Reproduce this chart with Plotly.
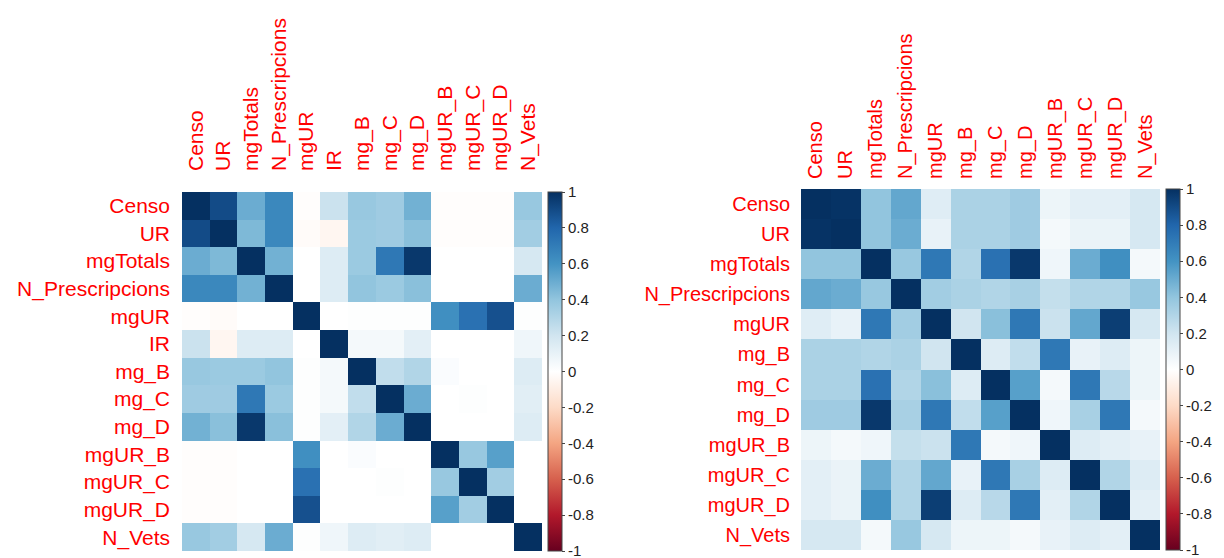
import plotly.graph_objects as go

labels_left = ["Censo", "UR", "mgTotals", "N_Prescripcions", "mgUR", "IR", "mg_B",
               "mg_C", "mg_D", "mgUR_B", "mgUR_C", "mgUR_D", "N_Vets"]
corr_left = [
    [1.00, 0.90, 0.50, 0.65, -0.01, 0.22, 0.38, 0.36, 0.48, -0.01, -0.01, -0.01, 0.38],
    [0.90, 1.00, 0.45, 0.65, -0.02, -0.05, 0.37, 0.36, 0.42, -0.01, -0.01, -0.01, 0.35],
    [0.50, 0.45, 1.00, 0.48, 0.00, 0.15, 0.37, 0.72, 0.97, 0.00, 0.00, 0.00, 0.18],
    [0.65, 0.65, 0.48, 1.00, 0.00, 0.15, 0.40, 0.37, 0.42, 0.00, 0.00, 0.00, 0.50],
    [-0.01, -0.02, 0.00, 0.00, 1.00, 0.00, 0.01, 0.01, 0.01, 0.62, 0.75, 0.88, 0.01],
    [0.22, -0.05, 0.15, 0.15, 0.00, 1.00, 0.05, 0.05, 0.12, 0.00, 0.00, 0.00, 0.07],
    [0.38, 0.37, 0.37, 0.40, 0.01, 0.05, 1.00, 0.25, 0.30, 0.02, 0.00, 0.00, 0.15],
    [0.36, 0.36, 0.72, 0.37, 0.01, 0.05, 0.25, 1.00, 0.50, 0.00, 0.01, 0.00, 0.13],
    [0.48, 0.42, 0.97, 0.42, 0.01, 0.12, 0.30, 0.50, 1.00, 0.00, 0.00, 0.00, 0.15],
    [-0.01, -0.01, 0.00, 0.00, 0.62, 0.00, 0.02, 0.00, 0.00, 1.00, 0.38, 0.55, 0.00],
    [-0.01, -0.01, 0.00, 0.00, 0.75, 0.00, 0.00, 0.01, 0.00, 0.38, 1.00, 0.35, 0.00],
    [-0.01, -0.01, 0.00, 0.00, 0.88, 0.00, 0.00, 0.00, 0.00, 0.55, 0.35, 1.00, 0.00],
    [0.38, 0.35, 0.18, 0.50, 0.01, 0.07, 0.15, 0.13, 0.15, 0.00, 0.00, 0.00, 1.00],
]

labels_right = ["Censo", "UR", "mgTotals", "N_Prescripcions", "mgUR", "mg_B",
                "mg_C", "mg_D", "mgUR_B", "mgUR_C", "mgUR_D", "N_Vets"]
corr_right = [
    [1.00, 0.99, 0.40, 0.52, 0.14, 0.32, 0.32, 0.36, 0.08, 0.12, 0.12, 0.18],
    [0.99, 1.00, 0.40, 0.50, 0.10, 0.32, 0.32, 0.36, 0.05, 0.09, 0.09, 0.18],
    [0.40, 0.40, 1.00, 0.38, 0.72, 0.30, 0.75, 0.97, 0.07, 0.50, 0.62, 0.05],
    [0.52, 0.50, 0.38, 1.00, 0.35, 0.32, 0.30, 0.33, 0.24, 0.30, 0.30, 0.38],
    [0.14, 0.10, 0.72, 0.35, 1.00, 0.20, 0.42, 0.72, 0.22, 0.52, 0.95, 0.18],
    [0.32, 0.32, 0.30, 0.32, 0.20, 1.00, 0.15, 0.25, 0.72, 0.10, 0.15, 0.08],
    [0.32, 0.32, 0.75, 0.30, 0.42, 0.15, 1.00, 0.55, 0.05, 0.72, 0.28, 0.08],
    [0.36, 0.36, 0.97, 0.33, 0.72, 0.25, 0.55, 1.00, 0.07, 0.33, 0.72, 0.05],
    [0.08, 0.05, 0.07, 0.24, 0.22, 0.72, 0.05, 0.07, 1.00, 0.15, 0.12, 0.10],
    [0.12, 0.09, 0.50, 0.30, 0.52, 0.10, 0.72, 0.33, 0.15, 1.00, 0.30, 0.15],
    [0.12, 0.09, 0.62, 0.30, 0.95, 0.15, 0.28, 0.72, 0.12, 0.30, 1.00, 0.12],
    [0.18, 0.18, 0.05, 0.38, 0.18, 0.08, 0.08, 0.05, 0.10, 0.15, 0.12, 1.00],
]

cbar_ticks = [1, 0.8, 0.6, 0.4, 0.2, 0, -0.2, -0.4, -0.6, -0.8, -1]
cbar_text = ["1", "0.8", "0.6", "0.4", "0.2", "0", "-0.2", "-0.4", "-0.6", "-0.8", "-1"]

rdbu = ["#67001F", "#B2182B", "#D6604D", "#F4A582", "#FDDBC7", "#FFFFFF",
        "#D1E5F0", "#92C5DE", "#4393C3", "#2166AC", "#053061"]
colorscale = [[i / 10, c] for i, c in enumerate(rdbu)]

W, H = 1224, 558
FONT = "Liberation Sans, Arial, sans-serif"
RED = "#FF0000"

def px_x(x):
    return x / W

def px_y(y):
    return (H - y) / H

# geometry (pixels)
L = dict(x0=182, x1=542, y0=192, y1=551, cb0=548)
R = dict(x0=801, x1=1160, y0=189, y1=550, cb0=1166)

def cbar(g):
    return dict(
        x=px_x(g["cb0"]), xanchor="left", xref="paper",
        y=px_y(g["y1"]), yanchor="bottom", yref="paper",
        len=(g["y1"] - g["y0"]) / H, lenmode="fraction",
        thickness=14, thicknessmode="pixels",
        xpad=0, ypad=0,
        outlinewidth=1, outlinecolor="#444444",
        tickvals=cbar_ticks, ticktext=cbar_text,
        ticks="outside", ticklen=3, tickcolor="#444444",
        ticklabeloverflow="allow",
        tickfont=dict(family=FONT, size=15, color="#222222"),
    )

fig = go.Figure()
fig.add_trace(go.Heatmap(
    z=corr_left, x=labels_left, y=labels_left, zmin=-1, zmax=1,
    colorscale=colorscale, colorbar=cbar(L), xaxis="x", yaxis="y",
    hoverinfo="x+y+z",
))
fig.add_trace(go.Heatmap(
    z=corr_right, x=labels_right, y=labels_right, zmin=-1, zmax=1,
    colorscale=colorscale, colorbar=cbar(R), xaxis="x2", yaxis="y2",
    hoverinfo="x+y+z",
))

def xax(g, anchor, standoff, size):
    return dict(domain=[px_x(g["x0"]), px_x(g["x1"])], anchor=anchor, side="top",
                tickangle=-90, showgrid=False, zeroline=False, showline=False,
                ticks="", ticklabelstandoff=standoff,
                tickfont=dict(family=FONT, size=size, color=RED))

def yax(g, anchor, standoff, size):
    return dict(domain=[px_y(g["y1"]), px_y(g["y0"])], anchor=anchor,
                autorange="reversed", showgrid=False, zeroline=False, showline=False,
                ticks="", ticklabelstandoff=standoff,
                tickfont=dict(family=FONT, size=size, color=RED))

fig.update_layout(
    width=W, height=H,
    margin=dict(l=0, r=0, t=0, b=0),
    paper_bgcolor="white", plot_bgcolor="white",
    xaxis=xax(L, "y", 20, 21),
    yaxis=yax(L, "x", 11, 21),
    xaxis2=xax(R, "y2", 9, 20),
    yaxis2=yax(R, "x2", 10, 20),
    showlegend=False,
)

fig.write_html("out.html")
